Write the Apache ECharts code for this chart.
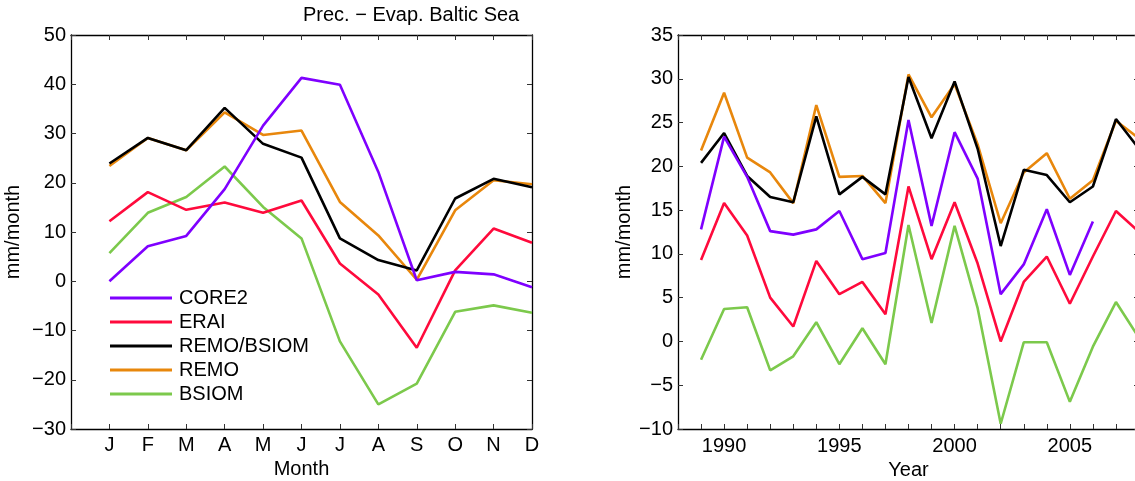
<!DOCTYPE html>
<html>
<head>
<meta charset="utf-8">
<script src="https://cdn.jsdelivr.net/npm/echarts@6/dist/echarts.min.js"></script>
<style>
  html, body { margin: 0; padding: 0; background: #fff; }
  #main { width: 1135px; height: 481px; }
</style>
</head>
<body>
<div id="main"></div>
<script>
// monthly climatology (left)
let monthLabels = ['J', 'F', 'M', 'A', 'M', 'J', 'J', 'A', 'S', 'O', 'N', 'D'];
let core2Month = [0, 7.1, 9.2, 18.7, 31.6, 41.3, 39.9, 22.2, 0.2, 1.9, 1.4, -1.2];
let eraiMonth = [12.2, 18.1, 14.5, 16.0, 13.9, 16.4, 3.6, -2.7, -13.5, 2.2, 10.7, 7.8];
let remoBsiomMonth = [23.9, 29.1, 26.6, 35.2, 27.9, 25.1, 8.7, 4.3, 2.2, 16.8, 20.8, 19.1];
let remoMonth = [23.4, 29.1, 26.6, 34.3, 29.7, 30.6, 16.1, 9.3, 0.3, 14.4, 20.5, 19.7];
let bsiomMonth = [5.7, 13.9, 17.1, 23.3, 15.1, 8.7, -12.2, -25.0, -20.8, -6.2, -4.9, -6.4];

// yearly means (right)
let years = [1989, 1990, 1991, 1992, 1993, 1994, 1995, 1996, 1997, 1998, 1999, 2000, 2001, 2002, 2003, 2004, 2005, 2006, 2007, 2008];
let core2Year = [12.8, 23.4, 18.8, 12.6, 12.2, 12.8, 14.9, 9.4, 10.1, 25.3, 13.2, 23.9, 18.6, 5.4, 8.8, 15.1, 7.6, 13.7, null, null];
let eraiYear = [9.3, 15.8, 12.1, 5.0, 1.7, 9.2, 5.4, 6.8, 3.1, 17.7, 9.4, 15.9, 8.9, 0.0, 6.8, 9.7, 4.3, 9.7, 14.9, 12.5];
let remoBsiomYear = [20.4, 23.8, 18.9, 16.5, 15.9, 25.7, 16.8, 18.8, 16.8, 30.2, 23.2, 29.7, 22.0, 10.9, 19.6, 19.0, 15.9, 17.7, 25.4, 22.0];
let remoYear = [21.8, 28.4, 21.0, 19.3, 15.8, 27.0, 18.8, 18.9, 15.8, 30.5, 25.6, 29.4, 22.5, 13.5, 19.3, 21.5, 16.3, 18.4, 25.2, 23.2];
let bsiomYear = [-2.1, 3.7, 3.9, -3.3, -1.7, 2.2, -2.6, 1.5, -2.6, 13.3, 2.1, 13.2, 3.8, -9.4, -0.1, -0.1, -6.9, -0.6, 4.5, 0.4];

let names = ['CORE2', 'ERAI', 'REMO/BSIOM', 'REMO', 'BSIOM'];
let colors = ['#7f00ff', '#ff0a3c', '#000000', '#e8870c', '#7cc94c'];

let app = {};
app.font = 'Liberation Sans, Arial, Helvetica, sans-serif';
app.fs = 20;

app.pairs = function(xs, ys){
    let out = [];
    for(let i=0; i<ys.length; i++){
        out.push([xs[i], ys[i]]);
    }
    return out;
}

app.axisBase = function(){
    return {
        axisLine: { show: true, onZero: false, lineStyle: { color: '#000', width: 1.3 } },
        axisTick: { show: true, inside: true, length: 5, lineStyle: { color: '#333', width: 1 } },
        splitLine: { show: false },
        axisLabel: { color: '#000', fontSize: app.fs, fontFamily: app.font }
    };
}

app.minus = function(v){ return String(v).replace('-', '\u2212'); }

let monthNums = monthLabels.map((m, i) => i + 1);
let monthData = [core2Month, eraiMonth, remoBsiomMonth, remoMonth, bsiomMonth];
let yearData = [core2Year, eraiYear, remoBsiomYear, remoYear, bsiomYear];

let series = [];
for(let i=0; i<names.length; i++){
    series.push({
        name: names[i], type: 'line', xAxisIndex: 0, yAxisIndex: 0,
        data: app.pairs(monthNums, monthData[i]),
        symbol: 'none', lineStyle: { color: colors[i], width: 2.6 },
        itemStyle: { color: colors[i] }, animation: false, z: 10 - i
    });
}
for(let i=0; i<names.length; i++){
    series.push({
        name: names[i], type: 'line', xAxisIndex: 2, yAxisIndex: 2,
        data: app.pairs(years, yearData[i]),
        symbol: 'none', connectNulls: false, lineStyle: { color: colors[i], width: 2.6 },
        itemStyle: { color: colors[i] }, animation: false, z: 10 - i
    });
}

let nameStyle = { color: '#000', fontSize: app.fs, fontFamily: app.font };

let xAxes = [
    Object.assign(app.axisBase(), {
        type: 'value', gridIndex: 0, position: 'bottom', min: 0, max: 12, interval: 1,
        name: 'Month', nameLocation: 'middle', nameGap: 27, nameTextStyle: nameStyle,
        axisLabel: { color: '#000', fontSize: app.fs, fontFamily: app.font, margin: 6,
            formatter: function(v){ return v >= 1 ? monthLabels[v - 1] : ''; } }
    }),
    Object.assign(app.axisBase(), {
        type: 'value', gridIndex: 0, position: 'top', min: 0, max: 12, interval: 1,
        axisLabel: { show: false }
    }),
    Object.assign(app.axisBase(), {
        type: 'value', gridIndex: 1, position: 'bottom', min: 1988, max: 2008, interval: 1,
        name: 'Year', nameLocation: 'middle', nameGap: 27, nameTextStyle: nameStyle,
        axisLabel: { color: '#000', fontSize: app.fs, fontFamily: app.font, margin: 7,
            formatter: function(v){ return v % 5 == 0 ? String(v) : ''; } }
    }),
    Object.assign(app.axisBase(), {
        type: 'value', gridIndex: 1, position: 'top', min: 1988, max: 2008, interval: 1,
        axisLabel: { show: false }
    })
];

let yAxes = [
    Object.assign(app.axisBase(), {
        type: 'value', gridIndex: 0, position: 'left', min: -30, max: 50, interval: 10,
        name: 'mm/month', nameLocation: 'middle', nameGap: 48, nameTextStyle: nameStyle,
        axisLabel: { color: '#000', fontSize: app.fs, fontFamily: app.font, margin: 5, formatter: app.minus }
    }),
    Object.assign(app.axisBase(), {
        type: 'value', gridIndex: 0, position: 'right', min: -30, max: 50, interval: 10,
        axisLabel: { show: false }
    }),
    Object.assign(app.axisBase(), {
        type: 'value', gridIndex: 1, position: 'left', min: -10, max: 35, interval: 5,
        name: 'mm/month', nameLocation: 'middle', nameGap: 44, nameTextStyle: nameStyle,
        axisLabel: { color: '#000', fontSize: app.fs, fontFamily: app.font, margin: 5, formatter: app.minus }
    }),
    Object.assign(app.axisBase(), {
        type: 'value', gridIndex: 1, position: 'right', min: -10, max: 35, interval: 5,
        axisLabel: { show: false }
    })
];

let myChart = echarts.init(document.getElementById('main'));
myChart.setOption({
    backgroundColor: '#fff',
    animation: false,
    title: {
        text: 'Prec. \u2212 Evap. Baltic Sea', left: 298, top: 0,
        textStyle: { color: '#000', fontSize: app.fs, fontWeight: 'normal', fontFamily: app.font }
    },
    legend: {
        data: names, orient: 'vertical', left: 105, top: 283,
        icon: 'rect', itemWidth: 62, itemHeight: 3, itemGap: 4,
        textStyle: { color: '#000', fontSize: app.fs, fontFamily: app.font, lineHeight: 20, padding: [0, 0, 0, 2] },
        selectedMode: false
    },
    grid: [
        { left: 71, top: 35, width: 461, height: 394, outerBoundsMode: 'none' },
        { left: 678, top: 35, width: 461, height: 394, outerBoundsMode: 'none' }
    ],
    xAxis: xAxes,
    yAxis: yAxes,
    series: series
});
</script>
</body>
</html>
